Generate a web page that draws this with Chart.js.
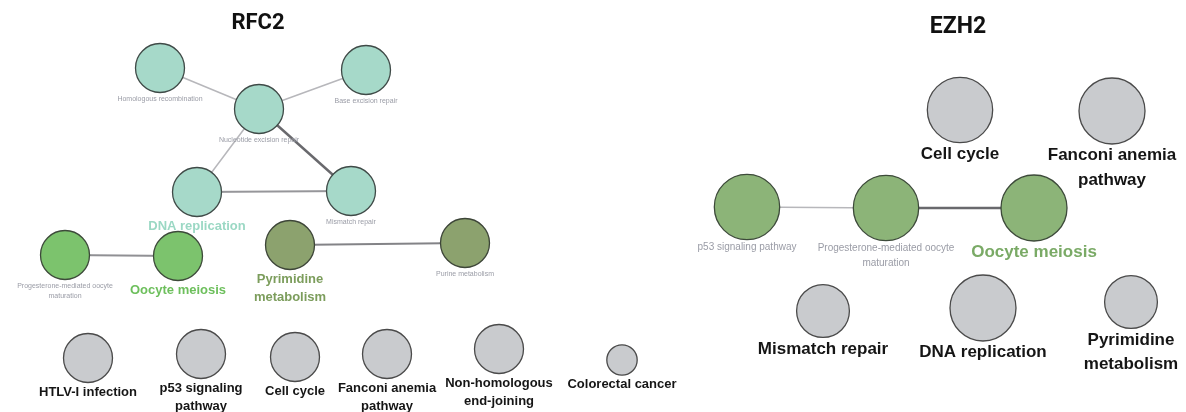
<!DOCTYPE html>
<html>
<head>
<meta charset="utf-8">
<title>RFC2 / EZH2 enriched pathway networks</title>
<script src="https://cdn.jsdelivr.net/npm/chart.js@4/dist/chart.umd.min.js"></script>
<style>
  html, body { margin: 0; padding: 0; background: #ffffff; }
  #wrap { width: 1186px; height: 412px; }
</style>
</head>
<body>
<div id="wrap"><canvas id="net" width="1186" height="412"></canvas></div>
<script>
// ---- Pathway terms (nodes) of the two gene networks ----
const nodeLabels = [
  'Homologous recombination', 'Base excision repair', 'Nucleotide excision repair',
  'DNA replication', 'Mismatch repair',
  'Progesterone-mediated oocyte\nmaturation', 'Oocyte meiosis',
  'Pyrimidine\nmetabolism', 'Purine metabolism',
  'HTLV-I infection', 'p53 signaling\npathway', 'Cell cycle',
  'Fanconi anemia\npathway', 'Non-homologous\nend-joining', 'Colorectal cancer',
  'Cell cycle', 'Fanconi anemia\npathway',
  'p53 signaling pathway', 'Progesterone-mediated oocyte\nmaturation', 'Oocyte meiosis',
  'Mismatch repair', 'DNA replication', 'Pyrimidine\nmetabolism'
];
// 0 = RFC2 network, 1 = EZH2 network
const nodeGroup = [0,0,0,0,0, 0,0, 0,0, 0,0,0,0,0,0, 1,1, 1,1,1, 1,1,1];
// functional cluster: 0 = unclustered, 1 = DNA repair, 2 = oocyte (RFC2), 3 = nucleotide metabolism, 4 = oocyte (EZH2)
const nodeCluster = [1,1,1,1,1, 2,2, 3,3, 0,0,0,0,0,0, 0,0, 4,4,4, 0,0,0];
// representative term of each cluster
const nodeLeader = [0,0,0,1,0, 0,1, 1,0, 0,0,0,0,0,0, 0,0, 0,0,1, 0,0,0];
// network layout coordinates
const nodeX = [160, 366, 259, 197, 351, 65, 178, 290, 465, 88, 201, 295, 387, 499, 622,
               960, 1112, 747, 886, 1034, 823, 983, 1131];
const nodeY = [68, 70, 109, 192, 191, 255, 256, 245, 243, 358, 354, 357, 354, 349, 360,
               110, 111, 207, 208, 208, 311, 308, 302];
// relative term size (enrichment)
const nodeSize = [1, 1, 1, 1, 1, 1, 1, 1, 1, 1, 1, 1, 1, 1, 0.62,
                  0.99, 1, 0.99, 0.99, 1, 0.8, 1, 0.8];

// ---- Links between terms (kappa similarity) ----
const edgeFrom   = [0, 1, 2, 2, 3, 5, 7, 17, 18];
const edgeTo     = [2, 2, 3, 4, 4, 6, 8, 18, 19];
const edgeWeight = [0.25, 0.25, 0.25, 0.85, 0.5, 0.55, 0.65, 0.25, 0.85];

const groupTitles = ['RFC2', 'EZH2'];

// ---- drawing styles ----
const groupStyle = [
  { radius: 24.5, minorFont: 7,  majorFont: 13, titleFont: 22, titleX: 258, titleY: 23, gap: 3, lineH: 1.38 },
  { radius: 33,   minorFont: 10, majorFont: 17, titleFont: 23, titleX: 958, titleY: 27, gap: 3, lineH: 1.45 }
];
const clusterFill  = ['#c9cbce', '#a6d9c9', '#7cc36d', '#8ca26e', '#8cb478'];
const clusterLabel = ['#151515', '#9bd8c4', '#6dbf5c', '#7c9d5c', '#7aaa66'];
const clusterBorder = ['#4a4a4a', '#3f4a47', '#3d4a3a', '#3d4538', '#3d4a3a'];
const minorLabelColor = '#9a9ca6';

const nodePoints = nodeX.map((x, i) => ({
  x: x, y: nodeY[i], r: nodeSize[i] * groupStyle[nodeGroup[i]].radius
}));

const edgeSets = edgeFrom.map((a, k) => {
  const b = edgeTo[k];
  const w = edgeWeight[k];
  const shade = Math.round(215 - 130 * w);
  return {
    type: 'line',
    data: [{ x: nodeX[a], y: nodeY[a] }, { x: nodeX[b], y: nodeY[b] }],
    borderColor: `rgb(${shade},${shade},${shade + 4})`,
    borderWidth: 1.1 + 1.6 * w,
    pointRadius: 0,
    pointHoverRadius: 0,
    showLine: true,
    fill: false,
    tension: 0,
    order: 2
  };
});

// term labels under each node and the network titles
const labelPlugin = {
  id: 'termLabels',
  afterDatasetsDraw(chart) {
    const ctx = chart.ctx;
    const meta = chart.getDatasetMeta(0);
    ctx.save();
    ctx.textAlign = 'center';
    ctx.textBaseline = 'middle';
    meta.data.forEach((pt, i) => {
      const g = groupStyle[nodeGroup[i]];
      const cl = nodeCluster[i];
      let size, color, weight;
      if (cl === 0) { size = g.majorFont; color = clusterLabel[0]; weight = 'bold'; }
      else if (nodeLeader[i]) { size = g.majorFont; color = clusterLabel[cl]; weight = 'bold'; }
      else { size = g.minorFont; color = minorLabelColor; weight = 'normal'; }
      ctx.font = `${weight} ${size}px "Liberation Sans", Arial, sans-serif`;
      ctx.fillStyle = color;
      let y = pt.y + pt.options.radius + g.gap + size / 2;
      nodeLabels[i].split('\n').forEach(line => {
        ctx.fillText(line, pt.x, y);
        y += size * g.lineH;
      });
    });
    groupTitles.forEach((t, gi) => {
      const g = groupStyle[gi];
      ctx.font = `bold ${g.titleFont}px Roboto, "Noto Sans", sans-serif`;
      ctx.fillStyle = '#111111';
      ctx.fillText(t, g.titleX, g.titleY);
    });
    ctx.restore();
  }
};

new Chart(document.getElementById('net'), {
  type: 'bubble',
  data: {
    datasets: [
      {
        type: 'bubble',
        data: nodePoints,
        backgroundColor: nodeCluster.map(c => clusterFill[c]),
        borderColor: nodeCluster.map(c => clusterBorder[c]),
        borderWidth: 1.3,
        hoverBorderWidth: 1.3,
        hoverRadius: 0,
        order: 1
      },
      ...edgeSets
    ]
  },
  options: {
    responsive: false,
    animation: false,
    events: [],
    clip: false,
    layout: { padding: 0, autoPadding: false },
    scales: {
      x: { type: 'linear', min: 0, max: 1186, display: false },
      y: { type: 'linear', min: 0, max: 412, reverse: true, display: false }
    },
    plugins: {
      legend: { display: false },
      tooltip: { enabled: false },
      title: { display: false }
    }
  },
  plugins: [labelPlugin]
});
</script>
</body>
</html>
